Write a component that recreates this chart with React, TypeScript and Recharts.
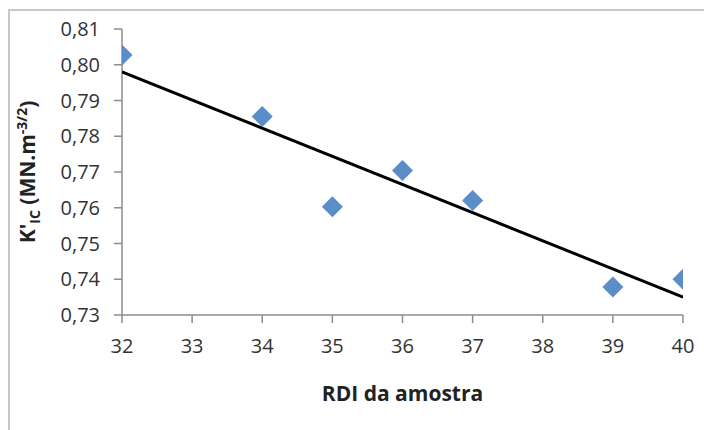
import React from 'react';
import { ScatterChart, Scatter, XAxis, YAxis } from 'recharts';

const rdi = [32, 34, 35, 36, 37, 39, 40];
const kic = [0.8027, 0.7855, 0.7603, 0.7704, 0.762, 0.7378, 0.74];
const trendX = [32, 40];
const trendY = [0.798, 0.735];
const xTicks = [32, 33, 34, 35, 36, 37, 38, 39, 40];
const yTicks = [0.73, 0.74, 0.75, 0.76, 0.77, 0.78, 0.79, 0.8, 0.81];

const points = rdi.map((x, i) => ({ x, y: kic[i] }));
const trend = trendX.map((x, i) => ({ x, y: trendY[i] }));

const FONT = '"Open Sans", "Noto Sans", sans-serif';

const Diamond = (props: any) => {
  const { cx, cy } = props;
  const r = 10.5;
  return (
    <path
      d={`M${cx},${cy - r} L${cx + r},${cy} L${cx},${cy + r} L${cx - r},${cy} Z`}
      fill="#5B8DC8"
    />
  );
};

const NoShape = () => null;

const YLabel = () => (
  <text
    transform="translate(35,172) rotate(-90)"
    textAnchor="middle"
    fontFamily={FONT}
    fontWeight="bold"
    fontSize={21}
    fill="#222"
  >
    <tspan>K'</tspan>
    <tspan fontSize={14} dy={5}>IC</tspan>
    <tspan dy={-5}> (MN.m</tspan>
    <tspan fontSize={14} dy={-8}>-3/2</tspan>
    <tspan dy={8}>)</tspan>
  </text>
);

export default function App() {
  return (
    <div style={{ position: 'absolute', left: 0, top: 0, width: 704, height: 430, background: '#fff' }}>
      <div
        style={{
          position: 'absolute',
          left: 8,
          top: 9,
          width: 704,
          height: 430,
          borderTop: '2px solid #C8C8C8',
          borderLeft: '2px solid #C8C8C8',
        }}
      />
      <div style={{ position: 'absolute', left: 0, top: 0 }}>
        <ScatterChart width={704} height={430} margin={{ top: 29, right: 21, bottom: 0, left: 0 }}>
          <XAxis
            type="number"
            dataKey="x"
            domain={[32, 40]}
            ticks={xTicks}
            interval={0}
            allowDataOverflow
            height={115}
            tickSize={8}
            tickMargin={16}
            axisLine={{ stroke: '#8C8C8C', strokeWidth: 1.5 }}
            tickLine={{ stroke: '#8C8C8C', strokeWidth: 1.5 }}
            tick={{ fill: '#333', fontSize: 20, fontFamily: FONT }}
            label={{
              value: 'RDI da amostra',
              position: 'insideBottom',
              offset: 29,
              style: { fill: '#222', fontSize: 21, fontWeight: 'bold', fontFamily: FONT },
            }}
          />
          <YAxis
            type="number"
            dataKey="y"
            domain={[0.73, 0.81]}
            ticks={yTicks}
            interval={0}
            allowDataOverflow
            width={122}
            tickSize={8}
            tickMargin={14}
            axisLine={{ stroke: '#8C8C8C', strokeWidth: 1.5 }}
            tickLine={{ stroke: '#8C8C8C', strokeWidth: 1.5 }}
            tick={{ fill: '#333', fontSize: 20, fontFamily: FONT }}
            tickFormatter={(v: number) => v.toFixed(2).replace('.', ',')}
            label={<YLabel />}
          />
          <Scatter
            data={trend}
            line={{ stroke: '#000', strokeWidth: 3 }}
            shape={NoShape}
            isAnimationActive={false}
          />
          <Scatter data={points} shape={Diamond} isAnimationActive={false} />
        </ScatterChart>
      </div>
    </div>
  );
}
